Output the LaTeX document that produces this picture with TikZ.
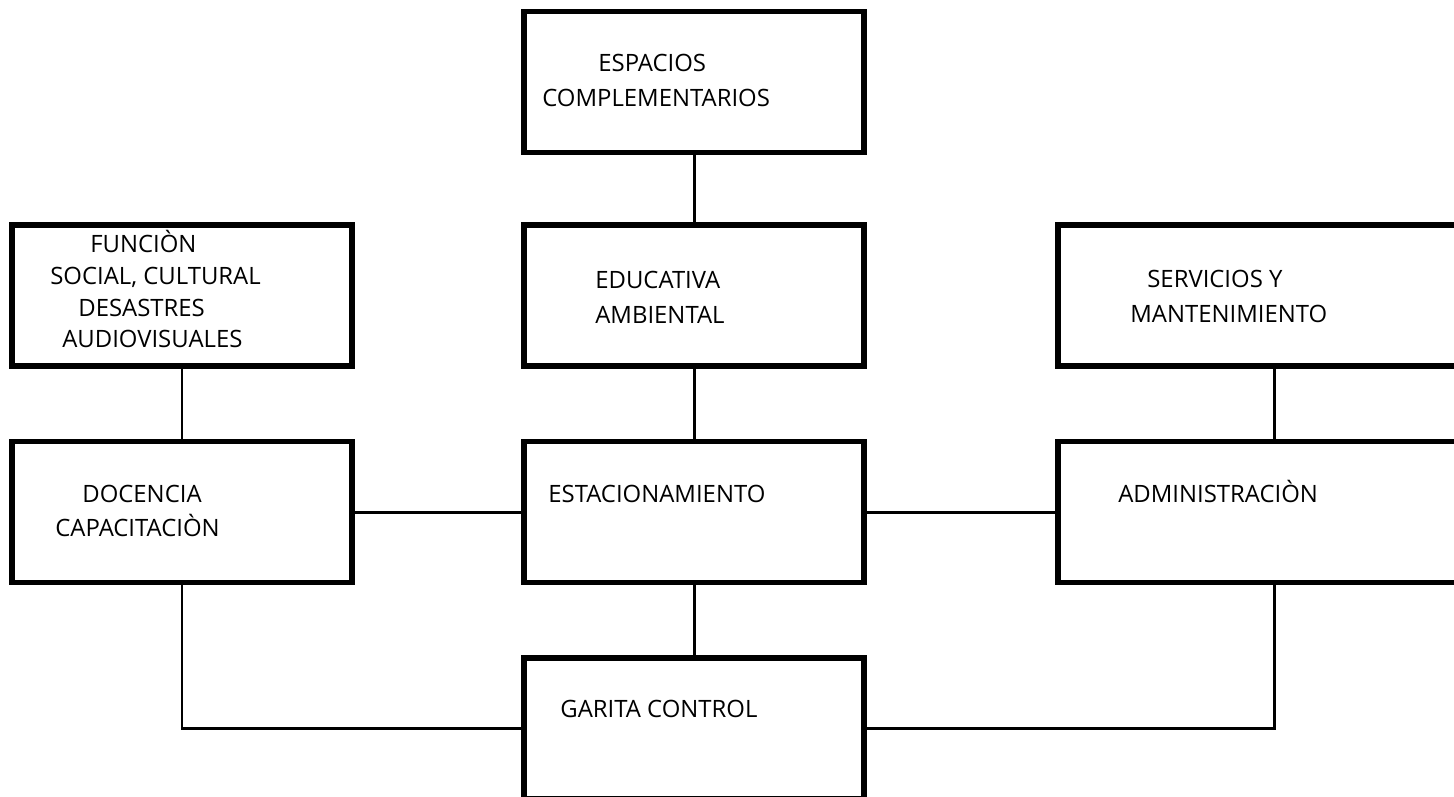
\documentclass[tikz,border=0pt]{standalone}
\usepackage{fontspec}
\setmainfont{Open Sans}
\usetikzlibrary{positioning}

\begin{document}
\begin{tikzpicture}[x=0.02cm,y=-0.02cm,
    every node/.style={inner sep=0pt},
    box/.style={draw,line width=3.2pt,minimum width=6.8cm,minimum height=2.82cm},
    widebox/.style={box,minimum width=8.64cm},
    txt/.style={anchor=base west,font=\fontsize{13.6}{15}\selectfont},
    link/.style={line width=1.7pt}
    ]
    \useasboundingbox (0,0) rectangle (1454,796);

    % the boxes
    \node (espacios) [box] at (694,82) {};
    \node (funcion) [box] at (182,295.5) {};
    \node (educativa) [box] at (694,295.5) {};
    \node (servicios) [widebox] at (1274,295.5) {};
    \node (docencia) [box] at (182,512) {};
    \node (estacionamiento) [box] at (694,512) {};
    \node (administracion) [widebox] at (1274,512) {};
    \node (garita) [box] at (694,728.5) {};

    % the texts
    \node (espacios1) [txt] at (598,71) {ESPACIOS};
    \node (espacios2) [txt] at (542,106) {COMPLEMENTARIOS};
    \node (funcion1) [txt] at (90,252) {FUNCIÒN};
    \node (funcion2) [txt] at (50,284) {SOCIAL, CULTURAL};
    \node (funcion3) [txt] at (78,316) {DESASTRES};
    \node (funcion4) [txt] at (62,347) {AUDIOVISUALES};
    \node (educativa1) [txt] at (595,288) {EDUCATIVA};
    \node (educativa2) [txt] at (595,323) {AMBIENTAL};
    \node (servicios1) [txt] at (1147,287) {SERVICIOS Y};
    \node (servicios2) [txt] at (1130,322) {MANTENIMIENTO};
    \node (docencia1) [txt] at (82,502) {DOCENCIA};
    \node (docencia2) [txt] at (55,536) {CAPACITACIÒN};
    \node (estacionamiento1) [txt] at (548,502) {ESTACIONAMIENTO};
    \node (administracion1) [txt] at (1118,502) {ADMINISTRACIÒN};
    \node (garita1) [txt] at (560,717) {GARITA CONTROL};

    % the edges
    \draw[link] (espacios) -- (educativa);
    \draw[link] (educativa) -- (estacionamiento);
    \draw[link] (estacionamiento) -- (garita);
    \draw[link] (funcion) -- (docencia);
    \draw[link] (servicios) -- (administracion);
    \draw[link] (docencia) -- (estacionamiento);
    \draw[link] (estacionamiento) -- (administracion);
    \draw[link] (docencia) |- (garita);
    \draw[link] (administracion) |- (garita);
\end{tikzpicture}
\end{document}
